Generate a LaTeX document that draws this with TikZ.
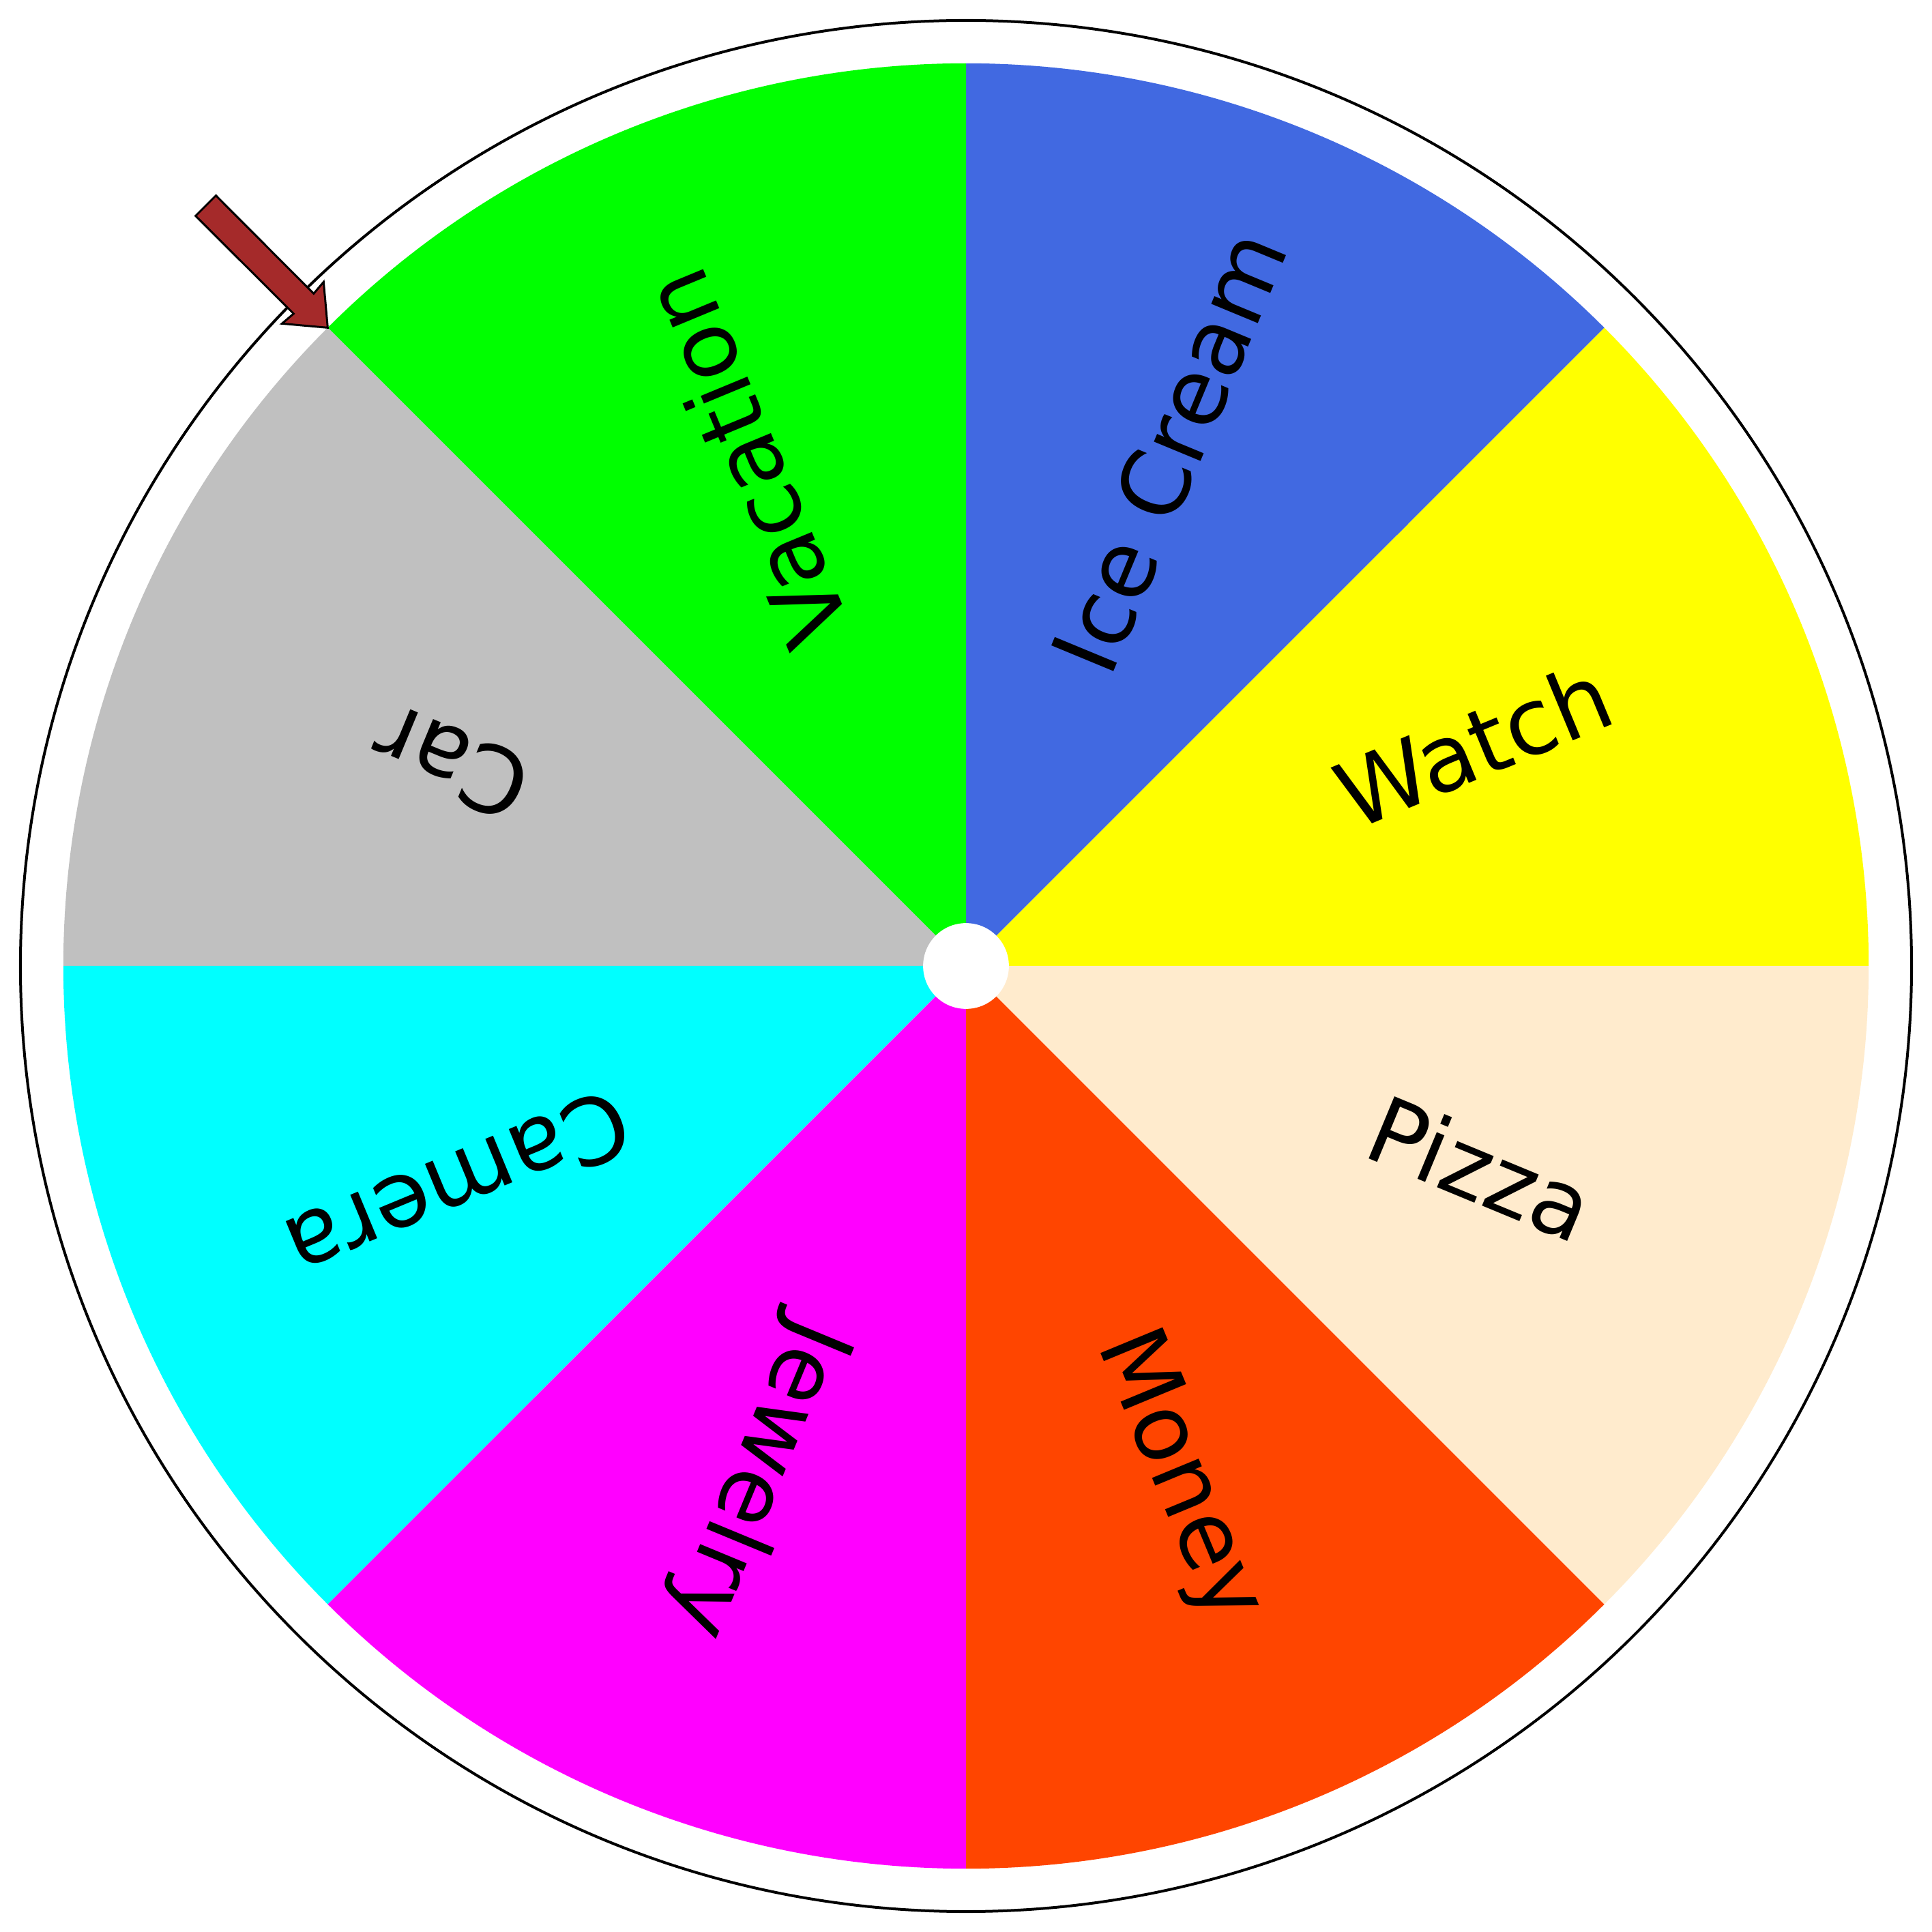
\documentclass[tikz,border=0pt]{standalone}
\usepackage{fontspec}
\setmainfont{DejaVu Sans}
\usetikzlibrary{calc}
\definecolor{sliceyellow}{RGB}{255,255,0}
\definecolor{sliceblue}{RGB}{65,105,225}
\definecolor{slicegreen}{RGB}{0,255,0}
\definecolor{slicegray}{RGB}{192,192,192}
\definecolor{slicecyan}{RGB}{0,255,255}
\definecolor{slicemagenta}{RGB}{255,0,255}
\definecolor{sliceorange}{RGB}{255,69,0}
\definecolor{slicecream}{RGB}{255,235,205}
\definecolor{pointerbrown}{RGB}{165,42,42}

\begin{document}
\begin{tikzpicture}[
    prize/.style={font=\fontsize{21.3}{25}\selectfont,inner sep=0pt,
                  text height=16.2pt,text depth=5.1pt,anchor=center},
    slice/.style={draw=none}]
  \useasboundingbox (-7.84,-7.84) rectangle (7.84,7.84);
  % 外圈
  \draw[line width=0.63pt] (0,0) circle (7.674);
  % 八个扇区
  \fill[sliceyellow]  (0,0) -- (0:7.326)   arc[start angle=0,  end angle=45, radius=7.326] -- cycle;
  \fill[sliceblue]    (0,0) -- (45:7.326)  arc[start angle=45, end angle=90, radius=7.326] -- cycle;
  \fill[slicegreen]   (0,0) -- (90:7.326)  arc[start angle=90, end angle=135,radius=7.326] -- cycle;
  \fill[slicegray]    (0,0) -- (135:7.326) arc[start angle=135,end angle=180,radius=7.326] -- cycle;
  \fill[slicecyan]    (0,0) -- (180:7.326) arc[start angle=180,end angle=225,radius=7.326] -- cycle;
  \fill[slicemagenta] (0,0) -- (225:7.326) arc[start angle=225,end angle=270,radius=7.326] -- cycle;
  \fill[sliceorange]  (0,0) -- (270:7.326) arc[start angle=270,end angle=315,radius=7.326] -- cycle;
  \fill[slicecream]   (0,0) -- (315:7.326) arc[start angle=315,end angle=360,radius=7.326] -- cycle;
  % 中心圆
  \fill[white] (0,0) circle (0.348);
  % 奖品文字（沿半径方向）
  \node[prize,rotate=22.5]  (watch)    at (22.5:4.49)  {Watch};
  \node[prize,rotate=67.5]  (icecream) at (67.5:4.49)  {Ice Cream};
  \node[prize,rotate=112.5] (vacation) at (112.5:4.49) {Vacation};
  \node[prize,rotate=157.5] (car)      at (157.5:4.49) {Car};
  \node[prize,rotate=202.5] (camera)   at (202.5:4.49) {Camera};
  \node[prize,rotate=247.5] (jewelry)  at (247.5:4.49) {Jewelry};
  \node[prize,rotate=292.5] (money)    at (292.5:4.49) {Money};
  \node[prize,rotate=337.5] (pizza)    at (337.5:4.49) {Pizza};
  % 指针箭头
  \coordinate (tip) at (135:7.326);
  \begin{scope}[shift={(tip)},rotate=-45]
    \draw[fill=pointerbrown,line width=0.47pt]
      (0,0) -- (-0.286,0.239) -- (-0.276,0.115) -- (-1.40,0.117)
      -- (-1.40,-0.117) -- (-0.276,-0.115) -- (-0.286,-0.239) -- cycle;
  \end{scope}
\end{tikzpicture}
\end{document}
